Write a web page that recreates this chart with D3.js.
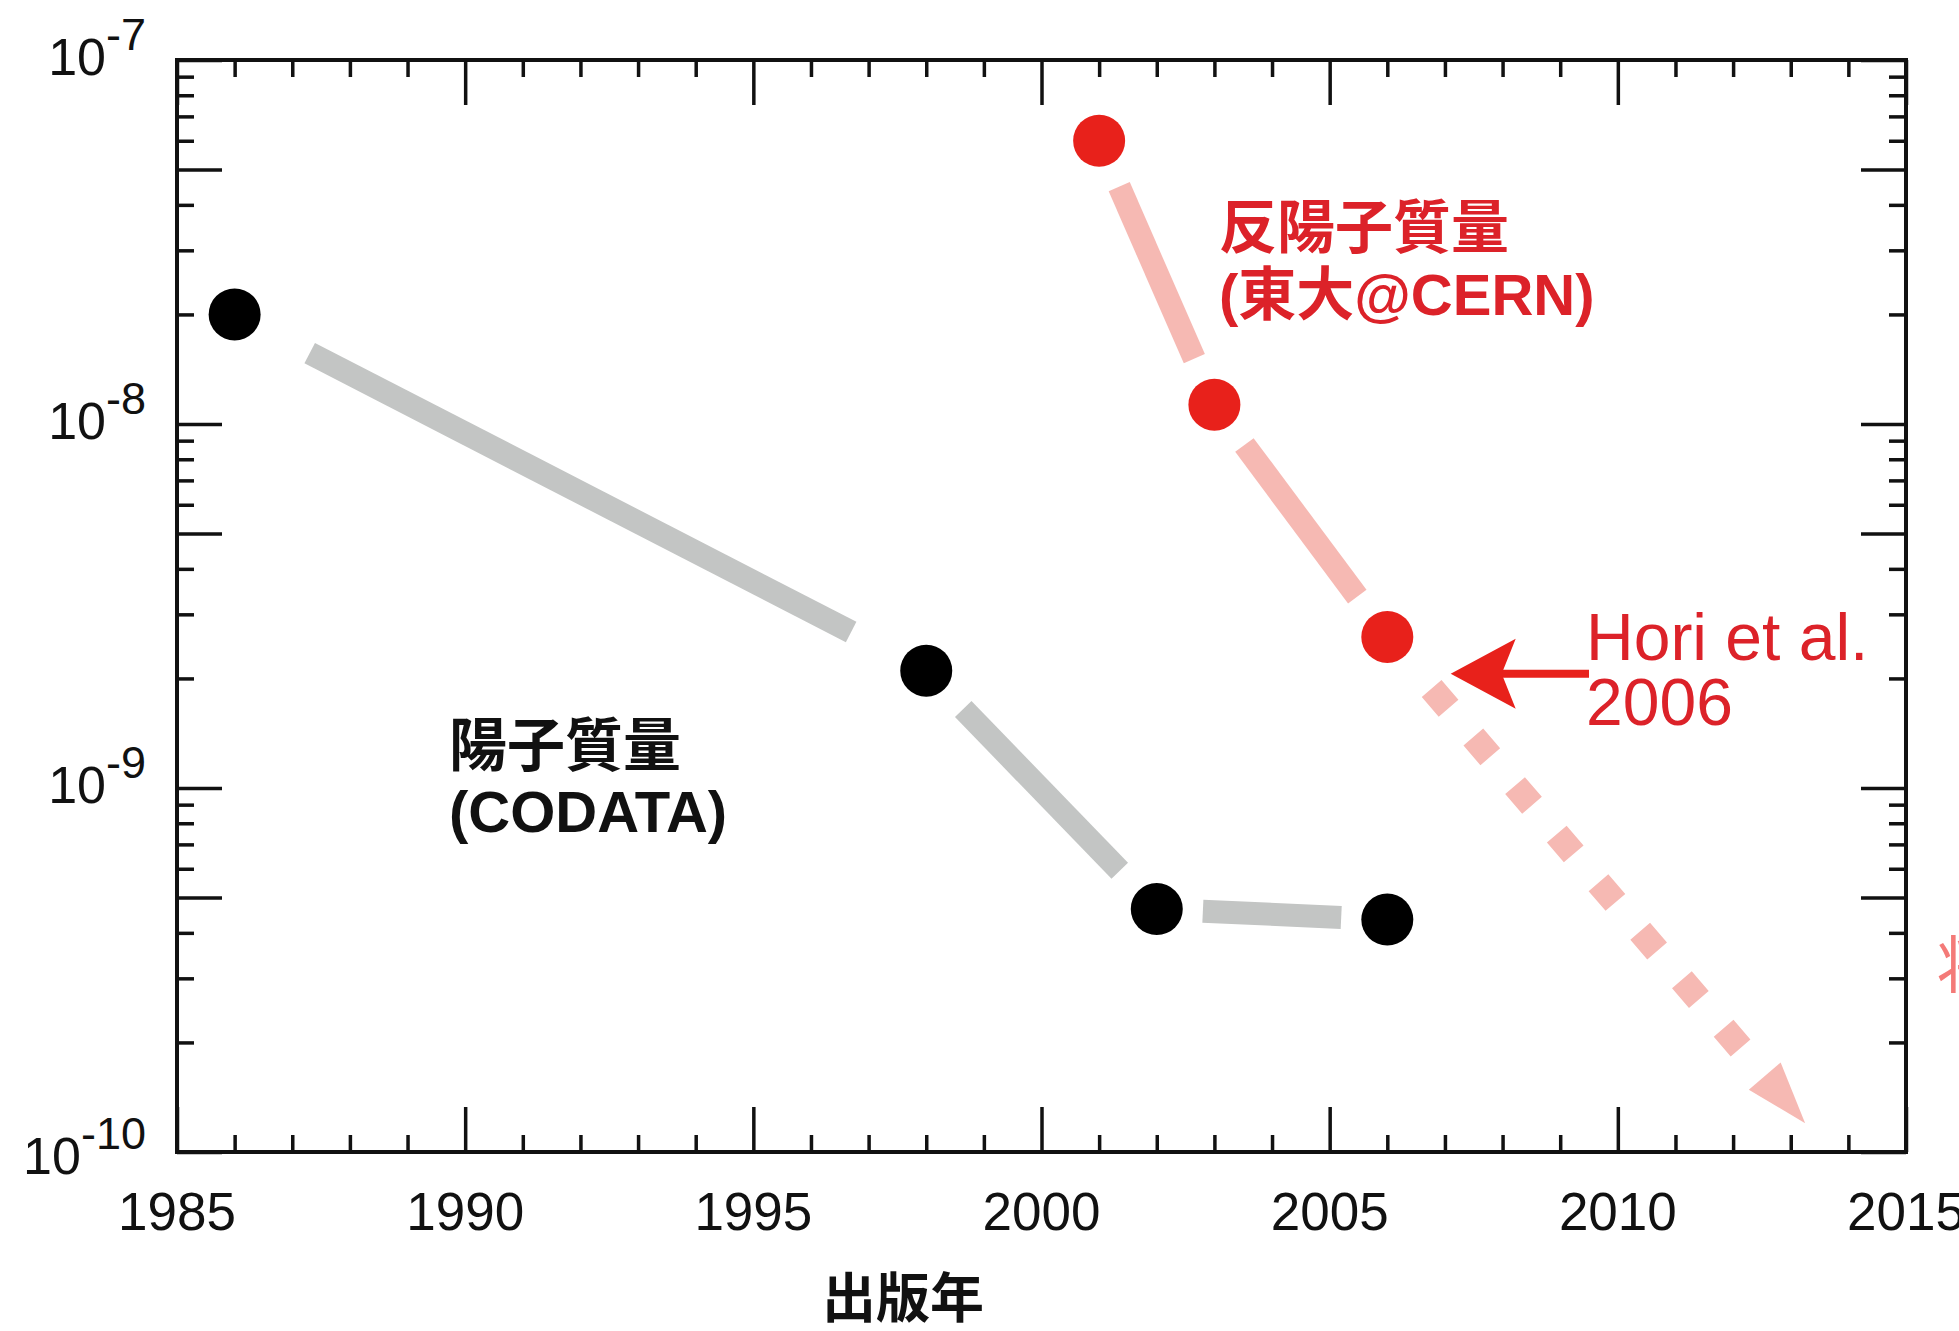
<!DOCTYPE html>
<html>
<head>
<meta charset="utf-8">
<script src="https://cdn.jsdelivr.net/npm/d3@7"></script>
<style>
  html, body { margin: 0; padding: 0; background: #fff; overflow: hidden; }
  svg { display: block; }
</style>
</head>
<body>
<script>
// Proton mass, relative precision (CODATA), by publication year
const protonYears  = [1986, 1998, 2002, 2006];
const protonValues = [2.0e-8, 2.1e-9, 4.65e-10, 4.35e-10];

// Antiproton mass, relative precision (Univ. of Tokyo @ CERN)
const antiprotonYears  = [2001, 2003, 2006];
const antiprotonValues = [6.0e-8, 1.13e-8, 2.6e-9];

// Expected future improvement (dashed arrow)
const projectionYears  = [2006, 2013.25];
const projectionValues = [2.6e-9, 1.2e-10];

// "Hori et al. 2006" pointer: tip and tail in data space
const pointerYears  = [2007.1, 2009.5];
const pointerValues = [2.06e-9, 2.06e-9];

// Axis ticks
const xTickYears     = [1985, 1990, 1995, 2000, 2005, 2010, 2015];
const yTickExponents = [-7, -8, -9, -10];

const W = 1959, H = 1331;
const plot = { left: 177, right: 1906, top: 60, bottom: 1152 };

const colors = {
  axis: "#111",
  proton: "#000",
  protonLine: "#c3c5c4",
  anti: "#e8211b",
  antiLine: "#f6b9b3",
  antiText: "#dc2229",
  future: "#f47a78"
};

const svg = d3.select("body").append("svg")
  .attr("width", W).attr("height", H)
  .attr("viewBox", `0 0 ${W} ${H}`);

svg.append("rect").attr("width", W).attr("height", H).attr("fill", "#fff");

const x = d3.scaleLinear().domain([1985, 2015]).range([plot.left, plot.right]);
const y = d3.scaleLog().domain([1e-10, 1e-7]).range([plot.bottom, plot.top]);

// ---- ticks (inward on all four sides) ----
const majorLen = 45, minorLen = 17, tickW = 3.5;
const yearsAll = d3.range(1985, 2016);
const xMajor = yearsAll.filter(v => v % 5 === 0);
const xMinor = yearsAll.filter(v => v % 5 !== 0);
const yMajor = [], yMinor = [];
for (let e = -10; e < -7; e++) {
  for (let m = 1; m <= 9; m++) {
    const v = m * Math.pow(10, e);
    (m === 1 || m === 5 ? yMajor : yMinor).push(v);
  }
}
yMajor.push(1e-7);

function tickGroup(axisFn, scale, values, len, transform) {
  const g = svg.append("g")
    .attr("transform", transform)
    .call(axisFn(scale).tickValues(values).tickSize(-len).tickFormat(""));
  g.select(".domain").remove();
  g.selectAll(".tick line").attr("stroke", colors.axis).attr("stroke-width", tickW);
  return g;
}
tickGroup(d3.axisBottom, x, xMajor, majorLen, `translate(0,${plot.bottom})`);
tickGroup(d3.axisBottom, x, xMinor, minorLen, `translate(0,${plot.bottom})`);
tickGroup(d3.axisTop, x, xMajor, majorLen, `translate(0,${plot.top})`);
tickGroup(d3.axisTop, x, xMinor, minorLen, `translate(0,${plot.top})`);
tickGroup(d3.axisLeft, y, yMajor, majorLen, `translate(${plot.left},0)`);
tickGroup(d3.axisLeft, y, yMinor, minorLen, `translate(${plot.left},0)`);
tickGroup(d3.axisRight, y, yMajor, majorLen, `translate(${plot.right},0)`);
tickGroup(d3.axisRight, y, yMinor, minorLen, `translate(${plot.right},0)`);

// frame
svg.append("rect")
  .attr("x", plot.left).attr("y", plot.top)
  .attr("width", plot.right - plot.left).attr("height", plot.bottom - plot.top)
  .attr("fill", "none").attr("stroke", colors.axis).attr("stroke-width", 4);

// ---- tick labels ----
const latin = "'Liberation Sans', Arial, Helvetica, sans-serif";
const cjk = "'Liberation Sans', 'Noto Sans CJK JP', sans-serif";

svg.append("g").selectAll("text")
  .data(xTickYears).join("text")
  .attr("x", d => x(d)).attr("y", 1230)
  .attr("text-anchor", "middle")
  .attr("font-family", latin).attr("font-size", 53)
  .attr("fill", "#111")
  .text(d => d);

const yl = svg.append("g").selectAll("text")
  .data(yTickExponents).join("text")
  .attr("x", 146).attr("y", d => y(Math.pow(10, d)) + (d === -10 ? 22 : 15))
  .attr("text-anchor", "end")
  .attr("font-family", latin).attr("font-size", 52)
  .attr("fill", "#111");
yl.append("tspan").text("10");
yl.append("tspan").attr("dy", -25).attr("font-size", 45).text(d => "-" + Math.abs(d));

// x-axis title
svg.append("text")
  .attr("x", 903).attr("y", 1318)
  .attr("text-anchor", "middle")
  .attr("font-family", "'Noto Sans CJK JP', sans-serif")
  .attr("font-weight", 700).attr("font-size", 54)
  .attr("fill", "#111")
  .text("出版年");

// ---- series: thick connectors with gaps around the markers ----
function connectors(years, values, color) {
  const pts = years.map((yr, i) => [x(yr), y(values[i])]);
  const segs = d3.pairs(pts).map(([a, b]) => {
    const dx = b[0] - a[0], dy = b[1] - a[1];
    const len = Math.hypot(dx, dy);
    const gap = 30 + 0.07 * len;
    const ux = dx / len, uy = dy / len;
    return [a[0] + ux * gap, a[1] + uy * gap, b[0] - ux * gap, b[1] - uy * gap];
  });
  svg.append("g").selectAll("line").data(segs).join("line")
    .attr("x1", d => d[0]).attr("y1", d => d[1])
    .attr("x2", d => d[2]).attr("y2", d => d[3])
    .attr("stroke", color).attr("stroke-width", 23)
    .attr("stroke-linecap", "butt");
}
connectors(protonYears, protonValues, colors.protonLine);
connectors(antiprotonYears, antiprotonValues, colors.antiLine);

// projected trend: square dashes ending in a triangular head
{
  const p0 = [x(projectionYears[0]), y(projectionValues[0])];
  const p1 = [x(projectionYears[1]), y(projectionValues[1])];
  const dx = p1[0] - p0[0], dy = p1[1] - p0[1];
  const len = Math.hypot(dx, dy);
  const ux = dx / len, uy = dy / len, nx = -uy, ny = ux;
  const startOff = 68, headLen = 62, headHalf = 21;
  svg.append("line")
    .attr("x1", p0[0] + ux * startOff).attr("y1", p0[1] + uy * startOff)
    .attr("x2", p1[0] - ux * headLen).attr("y2", p1[1] - uy * headLen)
    .attr("stroke", colors.antiLine).attr("stroke-width", 26)
    .attr("stroke-dasharray", "26 38");
  const bx = p1[0] - ux * headLen, by = p1[1] - uy * headLen;
  svg.append("path")
    .attr("d", `M${p1[0]},${p1[1]}L${bx + nx * headHalf},${by + ny * headHalf}L${bx - nx * headHalf},${by - ny * headHalf}Z`)
    .attr("fill", colors.antiLine);
}

// markers
svg.append("g").selectAll("circle")
  .data(protonYears.map((yr, i) => [yr, protonValues[i]])).join("circle")
  .attr("cx", d => x(d[0])).attr("cy", d => y(d[1])).attr("r", 26)
  .attr("fill", colors.proton);
svg.append("g").selectAll("circle")
  .data(antiprotonYears.map((yr, i) => [yr, antiprotonValues[i]])).join("circle")
  .attr("cx", d => x(d[0])).attr("cy", d => y(d[1])).attr("r", 26)
  .attr("fill", colors.anti);

// ---- series labels ----
function twoLine(px, py, lines, color, size, gap) {
  const t = svg.append("text")
    .attr("font-family", cjk).attr("font-weight", 700)
    .attr("font-size", size).attr("fill", color);
  lines.forEach((s, i) => t.append("tspan").attr("x", px).attr("y", py + i * gap).text(s));
}
twoLine(449, 766, ["陽子質量", "(CODATA)"], "#111", 58, 66);
twoLine(1219, 248, ["反陽子質量", "(東大@CERN)"], colors.antiText, 58, 67);

// "Hori et al. 2006" pointer
{
  const tip = [x(pointerYears[0]), y(pointerValues[0])];
  const tail = [x(pointerYears[1]), y(pointerValues[1])];
  svg.append("line")
    .attr("x1", tip[0] + 48).attr("y1", tip[1])
    .attr("x2", tail[0]).attr("y2", tail[1])
    .attr("stroke", colors.anti).attr("stroke-width", 8);
  svg.append("path")
    .attr("d", `M${tip[0]},${tip[1]}L${tip[0] + 65},${tip[1] - 35}L${tip[0] + 51},${tip[1]}L${tip[0] + 65},${tip[1] + 35}Z`)
    .attr("fill", colors.anti);
  const t = svg.append("text")
    .attr("font-family", latin).attr("font-size", 66).attr("fill", colors.antiText);
  t.append("tspan").attr("x", tail[0] - 3).attr("y", 660).text("Hori et al.");
  t.append("tspan").attr("x", tail[0] - 3).attr("y", 725).text("2006");
}

// caption running off the right edge
svg.append("text")
  .attr("x", 1937).attr("y", 988)
  .attr("font-family", "'Noto Sans CJK JP', sans-serif")
  .attr("font-weight", 400).attr("font-size", 62)
  .attr("fill", colors.future)
  .text("将来");
</script>
</body>
</html>
